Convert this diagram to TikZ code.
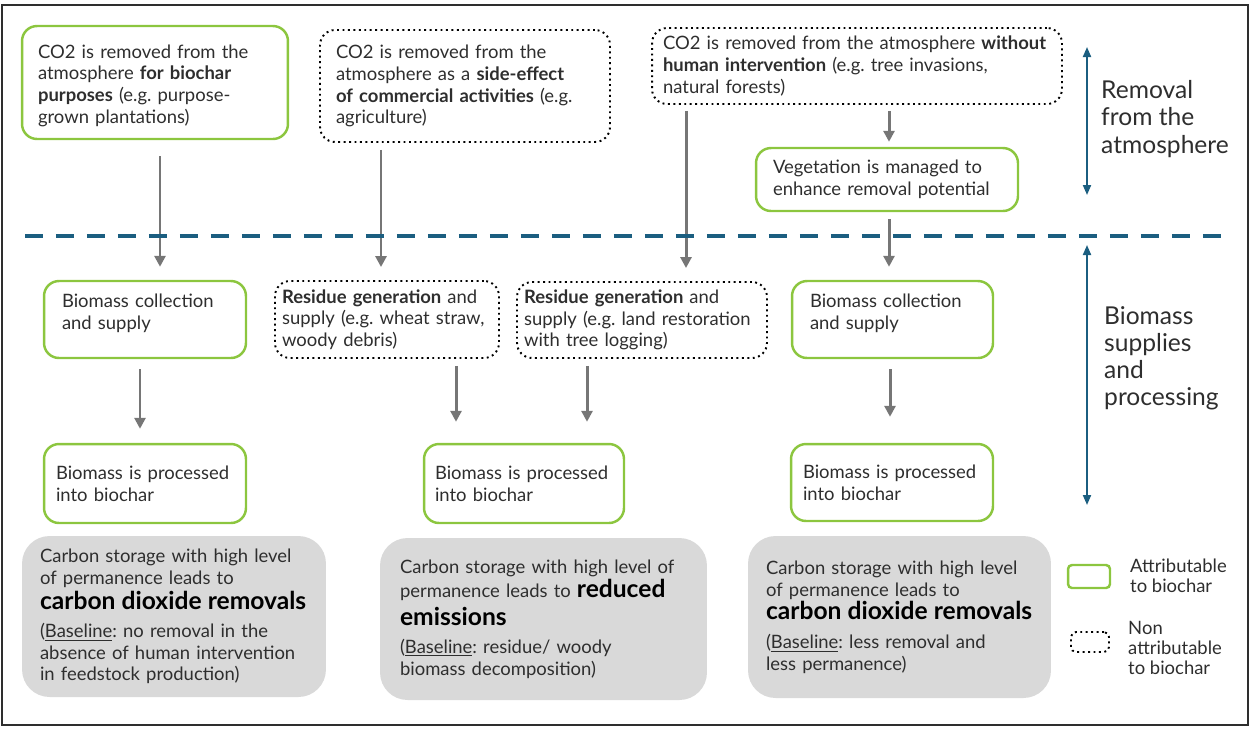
\documentclass[tikz,border=0pt]{standalone}
\usepackage{fontspec}
\setmainfont{Lato}
\usetikzlibrary{arrows.meta,calc}
\frenchspacing
\hyphenpenalty=10000
\definecolor{leaf}{HTML}{8CC63F}
\definecolor{shade}{HTML}{D9D9D9}
\definecolor{ink}{HTML}{2E2E2E}
\definecolor{sea}{HTML}{1B5E80}
\definecolor{pipe}{HTML}{767676}
\tikzset{
	box/.style={rectangle,rounded corners=0.3cm,align=left,text=ink,font=\fontsize{10.5}{12.4}\selectfont},
	attrib/.style={box,draw=leaf,line width=1.4pt},
	nonattrib/.style={box,draw=black,dotted,line width=1.1pt},
	outcome/.style={box,fill=shade,rounded corners=0.55cm},
	flow/.style={draw=pipe,line width=1.7pt,-{Triangle[length=0.22cm,width=0.22cm]},shorten <=0.14cm,shorten >=0.26cm},
	span/.style={draw=sea,line width=1.1pt,{Triangle[length=0.2cm,width=0.16cm]}-{Triangle[length=0.2cm,width=0.16cm]}},
	side/.style={anchor=west,align=left,text=ink,font=\fontsize{14}{15.4}\selectfont},
	key/.style={anchor=west,align=left,text=ink,font=\fontsize{10.5}{11.6}\selectfont}
}
\newcommand{\outtxt}[1]{{\fontsize{14}{16}\selectfont\bfseries\color{black}\smash{#1}}}

\begin{document}
\begin{tikzpicture}[x=0.02cm,y=-0.02cm]
	\useasboundingbox (0,0) rectangle (1250,728);
	\draw[ink,line width=0.6pt] (2,5) rectangle (1248,725);

	\node[attrib,minimum width=5.32cm,minimum height=2.26cm,inner xsep=0.32cm,text width=4.68cm,text depth=1.25cm] (co2bio) at (155,82.5) {CO2 is removed from the\\atmosphere \textbf{for biochar}\\\textbf{purposes} (e.g. purpose-\\grown plantations)};
	\node[nonattrib,minimum width=5.8cm,minimum height=2.24cm,inner xsep=0.32cm,text width=5.16cm] (co2side) at (465,86) {CO2 is removed from the\\atmosphere as a \textbf{side-effect}\\\textbf{of commercial activities} (e.g.\\agriculture)};
	\node[nonattrib,minimum width=8.2cm,minimum height=1.52cm,inner xsep=0.22cm,text width=7.76cm] (co2nat) at (857,66) {CO2 is removed from the atmosphere \textbf{without}\\\textbf{human intervention} (e.g. tree invasions,\\natural forests)};
	\node[attrib,minimum width=5.24cm,minimum height=1.26cm,inner xsep=0.34cm,text width=4.56cm] (veg) at (887,179.5) {Vegetation is managed to\\enhance removal potential};

	\node[attrib,minimum width=4.04cm,minimum height=1.54cm,inner xsep=0.36cm,text width=3.32cm,text depth=0.76cm] (bioA) at (145,319.5) {Biomass collection\\and supply};
	\node[nonattrib,minimum width=4.48cm,minimum height=1.54cm,inner xsep=0.14cm,text width=4.2cm] (resA) at (387,319.5) {\textbf{Residue generation} and\\supply (e.g. wheat straw,\\woody debris)};
	\node[nonattrib,minimum width=5cm,minimum height=1.52cm,inner xsep=0.14cm,text width=4.72cm] (resB) at (642,320) {\textbf{Residue generation} and\\supply (e.g. land restoration\\with tree logging)};
	\node[attrib,minimum width=4.02cm,minimum height=1.54cm,inner xsep=0.36cm,text width=3.3cm,text depth=0.76cm] (bioD) at (892.5,319.5) {Biomass collection\\and supply};

	\node[attrib,minimum width=4.04cm,minimum height=1.58cm,inner xsep=0.24cm,text width=3.56cm] (procA) at (145,483.5) {Biomass is processed\\into biochar};
	\node[attrib,minimum width=4cm,minimum height=1.58cm,inner xsep=0.22cm,text width=3.56cm] (procB) at (524,483.5) {Biomass is processed\\into biochar};
	\node[attrib,minimum width=4.04cm,minimum height=1.54cm,inner xsep=0.24cm,text width=3.56cm] (procC) at (892,482.5) {Biomass is processed\\into biochar};

	\node[outcome,minimum width=6.08cm,minimum height=3.22cm,inner xsep=0.36cm,text width=5.36cm] (gainA) at (174,616.5) {Carbon storage with high level\\of permanence leads to\\[1.8pt]\outtxt{carbon dioxide removals}\\[3.5pt](\underline{Baseline}: no removal in the\\absence of human intervention\\in feedstock production)};
	\node[outcome,minimum width=6.54cm,minimum height=3.24cm,inner xsep=0.4cm,text width=5.74cm] (gainB) at (543.5,619) {Carbon storage with high level of\\[1.2pt]permanence leads to \outtxt{reduced}\\[3.5pt]\outtxt{emissions}\\[3.5pt](\underline{Baseline}: residue/ woody\\biomass decomposition)};
	\node[outcome,minimum width=6.06cm,minimum height=3.24cm,inner xsep=0.36cm,text width=5.34cm] (gainC) at (899.5,617) {Carbon storage with high level\\[0.4pt]of permanence leads to\\[0.6pt]\outtxt{carbon dioxide removals}\\[4pt](\underline{Baseline}: less removal and\\less permanence)};

	\draw[flow,shorten <=0.32cm] ($(co2bio.south)+(5,0)$) -- ($(bioA.north)+(15,0)$);
	\draw[flow] ($(co2side.south)+(-84,0)$) -- ($(resA.north)+(-6,0)$);
	\draw[flow,shorten <=0.12cm] ($(co2nat.south)+(-171,0)$) -- ($(resB.north)+(44,0)$);
	\draw[flow,shorten <=0.12cm,shorten >=0.1cm] ($(co2nat.south)+(32,0)$) -- ($(veg.north)+(2,0)$);
	\draw[flow] ($(veg.south)+(2,0)$) -- ($(bioD.north)+(-3.5,0)$);
	\draw[flow,shorten <=0.2cm,shorten >=0.28cm] ($(bioA.south)+(-5,0)$) -- ($(procA.north)+(-5,0)$);
	\draw[flow,shorten >=0.42cm] ($(resA.south)+(69,0)$) -- ($(procB.north)+(-68,0)$);
	\draw[flow,shorten >=0.42cm] ($(resB.south)+(-55,0)$) -- ($(procB.north)+(63,0)$);
	\draw[flow,shorten <=0.2cm,shorten >=0.52cm] ($(bioD.south)+(-2.5,0)$) -- ($(procC.north)+(-2,0)$);

	\coordinate (cutL) at (25,236);
	\coordinate (cutR) at (1222,236);
	\draw[sea,line width=2.3pt,dash pattern=on 0.36cm off 0.26cm] (cutL) -- (cutR);

	\coordinate (upT) at (1087,47);
	\coordinate (upB) at (1087,195);
	\coordinate (lowT) at (1087,245);
	\coordinate (lowB) at (1087,505);
	\draw[span] (upT) -- (upB);
	\draw[span] (lowT) -- (lowB);
	\node[side] (upLbl) at (1095,119) {Removal\\from the\\atmosphere};
	\node[side] (lowLbl) at (1098,358) {Biomass\\supplies\\and\\processing};

	\node[box,draw=leaf,line width=1.4pt,rounded corners=0.08cm,minimum width=0.84cm,minimum height=0.46cm] (keyA) at (1089,576.5) {};
	\node[key] (keyAtxt) at (1124,576) {Attributable\\to biochar};
	\node[box,draw=black,dotted,line width=1.1pt,rounded corners=0.1cm,minimum width=0.76cm,minimum height=0.4cm] (keyB) at (1090,642) {};
	\node[key] (keyBtxt) at (1122,648) {Non\\attributable\\to biochar};
\end{tikzpicture}
\end{document}
